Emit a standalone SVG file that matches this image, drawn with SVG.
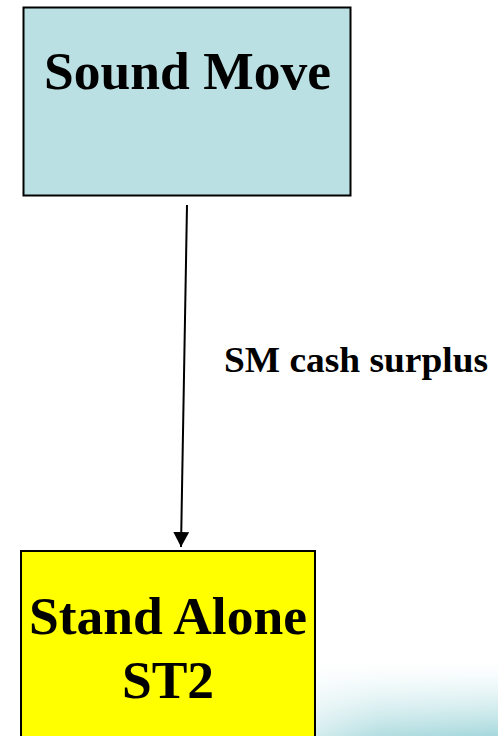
<svg xmlns="http://www.w3.org/2000/svg" width="498" height="736" viewBox="0 0 498 736">
  <defs>
    <linearGradient id="haze" x1="0" y1="0" x2="0" y2="1">
      <stop offset="0" stop-color="#ffffff" stop-opacity="0"/>
      <stop offset="0.35" stop-color="#e6f5f6" stop-opacity="0.6"/>
      <stop offset="1" stop-color="#a6d8dc"/>
    </linearGradient>
    <linearGradient id="hazeFade" x1="0" y1="0" x2="1" y2="0">
      <stop offset="0" stop-color="#fff" stop-opacity="0.6"/>
      <stop offset="0.4" stop-color="#fff" stop-opacity="0.15"/>
      <stop offset="1" stop-color="#fff" stop-opacity="0"/>
    </linearGradient>
    <marker id="arrow" markerWidth="16" markerHeight="16" refX="15" refY="8" orient="auto" markerUnits="userSpaceOnUse">
      <path d="M0,0 L15,8 L0,16 Z" fill="#000"/>
    </marker>
    <style>
      .box { stroke: #000; stroke-width: 2; }
      .title { font-family: "Liberation Serif", "Times New Roman", serif; font-weight: bold; font-size: 53.5px; fill: #000; text-anchor: middle; }
      .label { font-family: "Liberation Serif", "Times New Roman", serif; font-weight: bold; font-size: 36px; fill: #000; }
      .edge { stroke: #000; stroke-width: 2; fill: none; }
    </style>
  </defs>

  <rect width="498" height="736" fill="#ffffff"/>
  <!-- soft teal band along the lower right corner -->
  <rect x="300" y="655" width="198" height="81" fill="url(#haze)"/>
  <rect x="300" y="655" width="198" height="81" fill="url(#hazeFade)"/>

  <g id="connectors">
    <line class="edge" x1="187" y1="205" x2="181" y2="547" marker-end="url(#arrow)"/>
    <text class="label" x="224" y="372" textLength="264" lengthAdjust="spacingAndGlyphs">SM cash surplus</text>
  </g>

  <g id="sound-move">
    <rect class="box" x="23.5" y="7.5" width="327" height="188" fill="#bae0e3"/>
    <text class="title" x="187.5" y="89">Sound Move</text>
  </g>

  <g id="stand-alone-st2">
    <rect class="box" x="21" y="551" width="294" height="200" fill="#ffff00"/>
    <text class="title" x="168" y="634">Stand Alone</text>
    <text class="title" x="168" y="698">ST2</text>
  </g>
</svg>
